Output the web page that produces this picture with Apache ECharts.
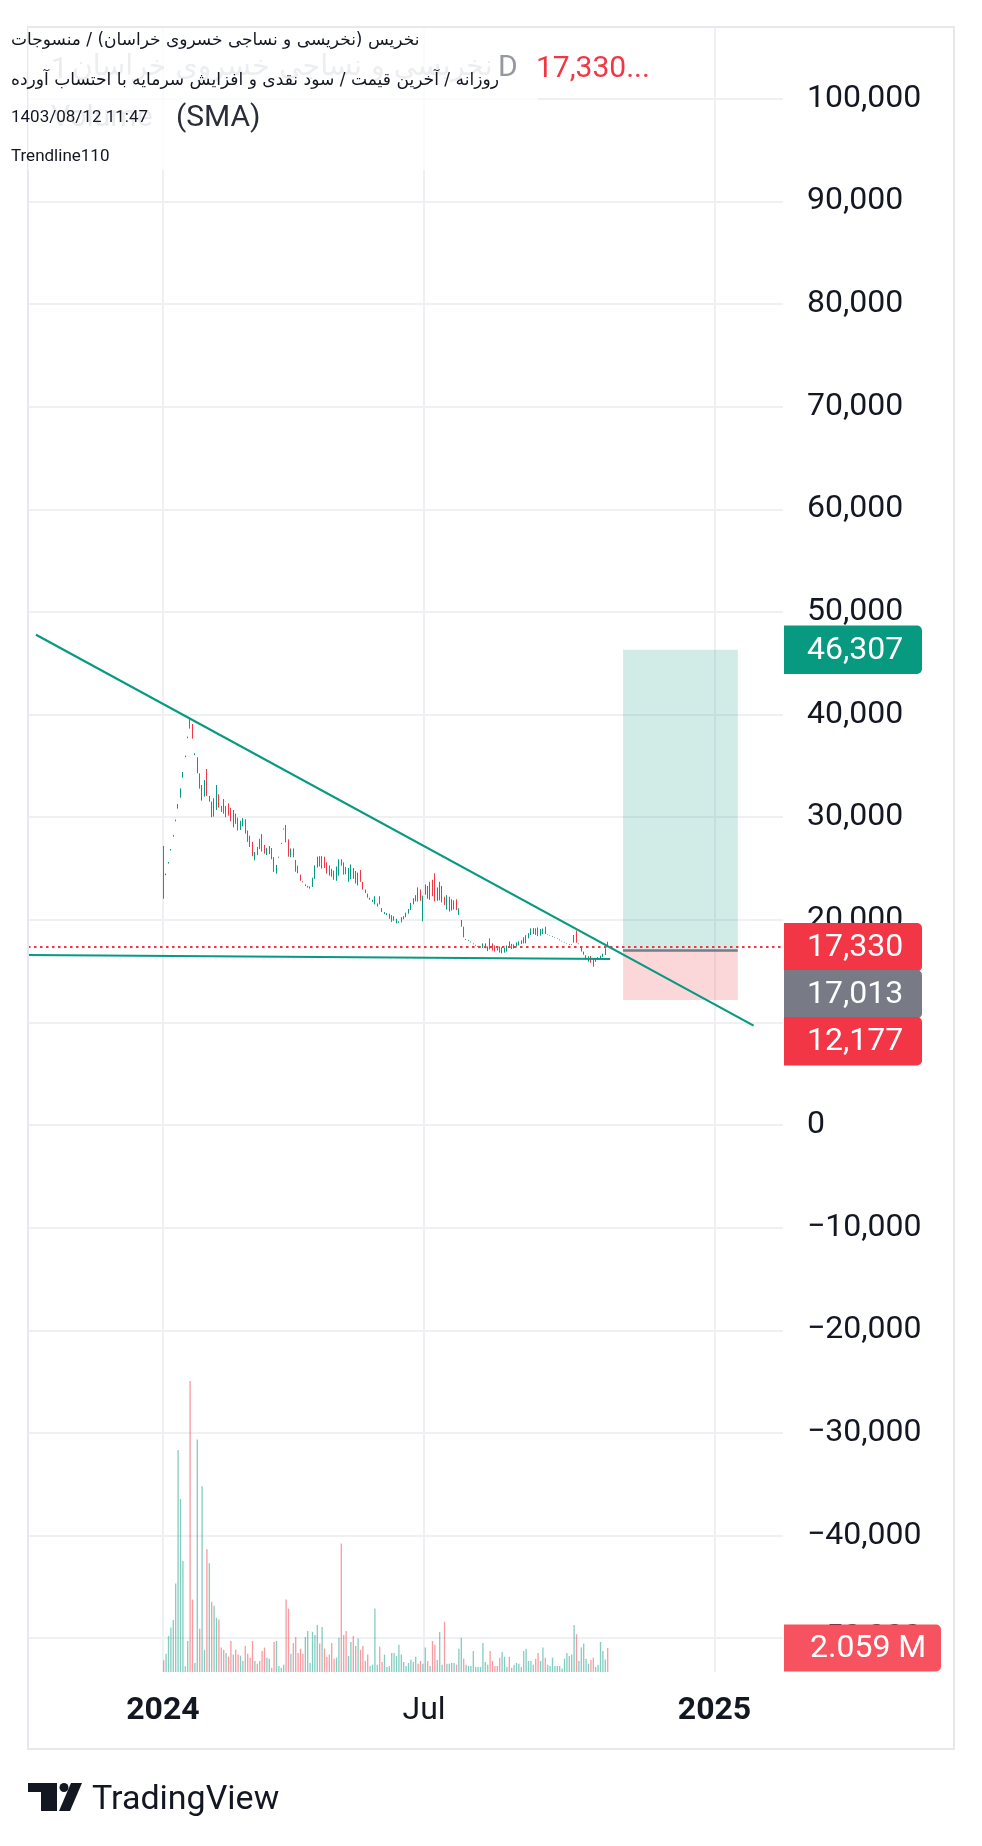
<!DOCTYPE html>
<html><head><meta charset="utf-8">
<script src="https://cdn.jsdelivr.net/npm/echarts@6/dist/echarts.min.js"></script>
<style>html,body{margin:0;padding:0;background:#fff;}#c{width:982px;height:1846px;}</style>
</head><body><div id="c"></div>
<script>
// ---- data ----
// daily candles [open, close], index = trading-bar number
const candles = [
[27200,22050],[24350,24500],[25480,25630],[26750,26900],[28100,28270],[29600,29760],[30830,31290],[31900,32810],[33850,34400],[35850,36000],
[37700,37850],[39640,38630],[39080,37650],[36050,36220],[34280,35830],[34280,32780],[31610,33140],[32000,33630],[34700,32070],[31510,32070],
[31510,29990],[30050,31840],[30700,33140],[32230,30930],[31090,30510],[31770,30340],[30000,31090],[31350,30150],[30900,29600],[29000,30700],
[30350,29350],[29950,28700],[28750,29650],[29100,29900],[29800,28400],[28700,27600],[28200,27100],[27600,26200],[25800,26600],[27100,26300],
[27900,26900],[28350,26650],[27300,26450],[26300,27000],[26400,27200],[27000,25900],[26100,24650],[24500,25350],[26050,26150],[27400,27500],
[28800,28900],[29240,27550],[27840,26150],[26100,26950],[26960,26090],[25830,24690],[25280,24530],[24400,23800],[23750,23650],[23300,23450],
[23150,23300],[23050,23250],[23200,24100],[24000,25300],[25100,26150],[26200,25200],[25000,26200],[26150,25050],[25600,24500],[25300,24300],
[24950,24200],[24800,23900],[23800,25200],[24300,25900],[25900,25280],[25600,24400],[25150,24450],[23700,25050],[23950,25400],[25050,24000],
[24750,23550],[23350,24600],[24850,23700],[23700,22950],[22950,22600],[22550,22150],[21950,22150],[21750,21950],[21500,22300],[21300,21600],
[22300,21500],[21150,20750],[20550,20750],[20450,20650],[20100,20600],[19800,20450],[19900,20350],[19650,20100],[19700,19850],[19750,20250],
[20050,20350],[20250,20700],[20600,21050],[20950,21650],[21500,22100],[21800,22400],[23160,21770],[22950,21850],[19850,22350],[22450,23450],
[23300,22050],[21950,23700],[23900,22300],[24530,21800],[21850,23150],[21900,23700],[21700,23300],[22250,21450],[21000,22400],[20800,22250],
[20900,22000],[21000,21900],[22000,20950],[20470,21120],[19330,19980],[19330,18290],[18050,18130],[17950,18030],[17800,17870],[17620,17700],
[17480,17560],[17380,17450],[17300,17400],[17250,17700],[17220,17700],[16950,17400],[18190,17120],[17700,17000],[17500,16900],[17350,17000],
[17400,16800],[16730,17300],[16800,17250],[16900,17500],[17900,17300],[17650,17150],[17200,17600],[17400,17800],[17500,17900],[17650,18000],
[17700,18300],[17700,18500],[18200,18700],[18520,19170],[18600,19200],[19170,18520],[19250,18400],[18450,19100],[18600,19150],[19330,18620],
[18550,18600],[18450,18500],[18350,18420],[18250,18300],[18150,18200],[18000,18080],[17900,17950],[17800,17850],[17650,17700],[17550,17620],
[17550,17620],[17770,18520],[18940,17770],[17620,17700],[16900,17380],[16600,16900],[16250,16550],[15920,16450],[16470,15820],[16240,15430],
[15900,16200],[16100,16350],[16250,16500],[16400,16700],[16570,17220],[17870,17330]
];
// volume in millions of shares
const volumes = [
1.0,1.57,3.09,3.8,4.46,7.57,19.0,14.8,9.5,0.5,2.66,
24.9,6.2,0.77,19.9,3.7,15.9,1.9,10.5,9.3,6.0,
5.66,4.63,4.49,2.09,1.9,1.63,1.31,2.66,1.49,1.9,
1.49,1.4,0.94,2.23,1.57,1.23,2.66,0.94,0.71,0.94,
1.8,2.09,1.23,1.14,0.37,2.57,2.66,0.51,0.37,0.63,
6.2,5.43,1.57,2.49,3.0,1.63,2.0,1.57,3.0,3.5,
0.77,3.43,3.17,4.03,2.43,3.86,2.0,1.31,1.49,2.49,
1.14,1.23,2.94,11.0,3.17,3.5,1.37,2.57,3.09,2.23,
2.86,1.9,2.23,0.94,1.49,0.51,0.63,5.43,0.63,2.17,
0.86,1.49,0.43,0.51,1.63,1.63,1.37,2.34,1.49,0.86,
0.51,0.77,1.06,0.86,1.31,0.71,0.94,0.71,2.09,0.94,
0.51,2.66,2.34,1.03,3.43,0.63,4.29,0.71,0.71,0.77,
0.77,0.63,2.0,2.94,1.14,0.63,0.51,0.51,1.8,0.43,
0.43,0.43,2.49,0.86,0.63,1.8,0.94,0.51,0.51,1.23,
1.71,1.31,0.43,1.31,0.37,0.63,0.77,0.71,0.43,1.8,
2.0,0.94,0.94,0.63,1.14,1.63,0.94,2.09,1.23,0.63,
0.51,1.23,0.51,0.51,0.51,0.29,1.14,1.63,1.37,1.49,
4.03,3.23,0.94,2.09,2.43,1.14,0.71,1.03,1.23,0.43,
0.63,2.57,1.8,1.06,2.059
];
const priceTicks = [100000,90000,80000,70000,60000,50000,40000,30000,20000,10000,0,-10000,-20000,-30000,-40000,-50000];
const timeTickBars = [-0.3, 108.5, 229.5];
const timeTickLabels = ['2024', 'Jul', '2025'];
const timeTickBold = [true, false, true];
const lastPrice = 17330;
const targetPrice = 46307;
const entryPrice = 17013;
const stopPrice = 12177;
const lastVolumeLabel = '2.059 M';
const trendDown = [[-53.2, 47780], [245.8, 9690]];
const trendFlat = [[-56.5, 16570], [186, 16180]];
const positionBars = [191.4, 239.2];
const headerLine1 = 'نخریس (نخریسی و نساجی خسروی خراسان) / منسوجات';
const headerLine2 = 'روزانه / آخرین قیمت / سود نقدی و افزایش سرمایه با احتساب آورده';
const headerDate = '1403/08/12 11:47';
const headerTool = 'Trendline110';
const ghostTitle = 'نخریسی و نساجی خسروی خراسان';

// ---- chart ----
const UP = '#089981', DOWN = '#F23645', GRID = '#eef0f4', TXT = '#131722';
const chart = echarts.init(document.getElementById('c'), null, {renderer: 'canvas', width: 982, height: 1846});
const candleData = candles.map((c, i) => [i, c[0], c[1], Math.min(c[0], c[1]), Math.max(c[0], c[1])]);
const volData = volumes.map((v, i) => ({
  value: [i, v],
  itemStyle: {color: candles[i][1] >= candles[i][0] ? 'rgba(8,153,129,0.5)' : 'rgba(242,54,69,0.5)'}
}));
function fmtPrice(v) {
  const s = Math.abs(v).toLocaleString('en-US');
  return v < 0 ? '\u2212' + s : s;
}

chart.setOption({
  animation: false,
  backgroundColor: '#ffffff',
  grid: {left: 28, top: 27, width: 755, height: 1645, show: false, outerBoundsMode: 'none'},
  xAxis: {
    type: 'value', min: -56.54, max: 258.04,
    axisLine: {show: false},
    axisTick: {show: false, customValues: timeTickBars},
    axisLabel: {
      customValues: timeTickBars, margin: 23, fontSize: 32, fontFamily: 'Roboto', color: TXT,
      formatter: function (v) {
        let k = 0, d = 1e9;
        timeTickBars.forEach((p, j) => { if (Math.abs(p - v) < d) { d = Math.abs(p - v); k = j; } });
        return timeTickBold[k] ? '{b|' + timeTickLabels[k] + '}' : timeTickLabels[k];
      },
      rich: {b: {fontWeight: 'bold', fontSize: 32, fontFamily: 'Roboto', color: TXT}}
    },
    splitLine: {show: true, lineStyle: {color: GRID, width: 2}}
  },
  yAxis: [{
    type: 'value', position: 'right', min: -53300, max: 107000,
    axisLine: {show: false},
    axisTick: {show: false, customValues: priceTicks},
    axisLabel: {customValues: priceTicks, margin: 24, align: 'left', fontSize: 32, fontFamily: 'Roboto', color: TXT, formatter: fmtPrice},
    splitLine: {show: true, lineStyle: {color: GRID, width: 2}}
  }, {
    type: 'value', min: 0, max: 140.8, show: false,
    axisLabel: {show: false}, splitLine: {show: false}, axisTick: {show: false}
  }],
  series: [{
    type: 'bar', yAxisIndex: 1, data: volData, barWidth: 1.3, z: 1, silent: true
  }, {
    type: 'line', data: [[positionBars[0], entryPrice], [positionBars[1], entryPrice]],
    symbol: 'none', lineStyle: {color: '#787B86', width: 2.5}, z: 3, silent: true,
    markArea: {
      silent: true,
      data: [
        [{xAxis: positionBars[0], yAxis: entryPrice, itemStyle: {color: 'rgba(8,153,129,0.19)'}}, {xAxis: positionBars[1], yAxis: targetPrice}],
        [{xAxis: positionBars[0], yAxis: stopPrice, itemStyle: {color: 'rgba(242,54,69,0.2)'}}, {xAxis: positionBars[1], yAxis: entryPrice}]
      ]
    }
  }, {
    type: 'candlestick', data: candleData, encode: {x: 0, y: [1, 2, 3, 4]},
    barWidth: 1.2, z: 4, silent: true,
    itemStyle: {color: UP, color0: DOWN, borderColor: UP, borderColor0: DOWN, borderWidth: 1},
    markLine: {
      silent: true, symbol: 'none', animation: false,
      label: {show: false},
      lineStyle: {color: DOWN, type: [2.5, 3.5], width: 2},
      data: [{yAxis: lastPrice}]
    }
  }, {
    type: 'line', data: trendDown, symbol: 'none', z: 6, silent: true,
    lineStyle: {color: UP, width: 2.2}
  }, {
    type: 'line', data: trendFlat, symbol: 'none', z: 6, silent: true,
    lineStyle: {color: UP, width: 2.2}
  }]
});

// ---- overlays: price tags, legend, frame, logo ----
function yP(v) { return chart.convertToPixel({yAxisIndex: 0}, v); }
function yV(v) { return chart.convertToPixel({yAxisIndex: 1}, v); }
function fitSize(text, family, target, weight) {
  const cv = document.createElement('canvas').getContext('2d');
  cv.font = (weight || 'normal') + ' 20px "' + family + '"';
  return 20 * target / cv.measureText(text).width;
}
function tag(yc, text, fill, w, h, tx) {
  return [
    {type: 'rect', zlevel: 1, z: 120, silent: true, shape: {x: 784, y: yc - h / 2, width: w, height: h, r: [0, 5, 5, 0]}, style: {fill: fill}},
    {type: 'text', zlevel: 1, z: 121, silent: true, style: {text: text, x: tx, y: yc + 1, fill: '#ffffff', font: '32px Roboto', verticalAlign: 'middle', align: 'left'}}
  ];
}
// stack tags that would overlap
const tagDefs = [
  {v: targetPrice, fill: UP}, {v: lastPrice, fill: DOWN}, {v: entryPrice, fill: '#787B86'}, {v: stopPrice, fill: DOWN}
].map(t => ({text: fmtPrice(t.v), fill: t.fill, y: yP(t.v)}));
tagDefs.sort((a, b) => a.y - b.y);
for (let i = 1; i < tagDefs.length; i++) tagDefs[i].y = Math.max(tagDefs[i].y, tagDefs[i - 1].y + 47);

const s1 = fitSize(headerLine1, 'DejaVu Sans', 409);
const s2 = fitSize(headerLine2, 'DejaVu Sans', 489);
const sg = fitSize(ghostTitle, 'DejaVu Sans', 420);

const graphics = [
  {type: 'rect', z: 90, silent: true, shape: {x: 28, y: 27, width: 926, height: 1722}, style: {fill: 'none', stroke: '#e6e8ee', lineWidth: 2}},
  // ghost legend (behind caption)
  {type: 'text', z: 100, style: {text: '1', x: 51, y: 70, font: '30px Roboto', fill: '#b9bcc4', verticalAlign: 'middle'}},
  {type: 'text', z: 100, style: {text: ghostTitle, x: 72, y: 68, font: sg.toFixed(1) + 'px "DejaVu Sans"', fill: '#c2c5cc', verticalAlign: 'middle'}},
  {type: 'text', z: 100, style: {text: 'Volume', x: 51, y: 118, font: '30px Roboto', fill: '#b9bcc4', verticalAlign: 'middle'}},
  {type: 'rect', z: 101, silent: true, shape: {x: 28, y: 28, width: 510, height: 142}, style: {fill: 'rgba(255,255,255,0.7)'}},
  {type: 'text', z: 102, style: {text: 'D', x: 498, y: 68, font: '30px Roboto', fill: '#9598a1', verticalAlign: 'middle'}},
  {type: 'text', z: 102, style: {text: '17,330...', x: 536, y: 69, font: '30px Roboto', fill: DOWN, verticalAlign: 'middle'}},
  {type: 'text', z: 102, style: {text: '(SMA)', x: 176, y: 118, font: '30px Roboto', fill: '#2a2e39', verticalAlign: 'middle'}},
  // caption lines
  {type: 'text', z: 103, style: {text: headerLine1, x: 11, y: 41, font: s1.toFixed(1) + 'px "DejaVu Sans"', fill: TXT, verticalAlign: 'middle'}},
  {type: 'text', z: 103, style: {text: headerLine2, x: 11, y: 81, font: s2.toFixed(1) + 'px "DejaVu Sans"', fill: TXT, verticalAlign: 'middle'}},
  {type: 'text', z: 103, style: {text: headerDate, x: 11, y: 118, font: '17px Roboto', fill: TXT, verticalAlign: 'middle'}},
  {type: 'text', z: 103, style: {text: headerTool, x: 11, y: 157, font: '17px Roboto', fill: TXT, verticalAlign: 'middle'}},
  // logo
  {type: 'polygon', z: 100, shape: {points: [[28, 1783], [57, 1783], [57, 1811], [41, 1811], [41, 1792], [28, 1792]]}, style: {fill: TXT}},
  {type: 'circle', z: 100, shape: {cx: 64, cy: 1787.5, r: 4.5}, style: {fill: TXT}},
  {type: 'polygon', z: 100, shape: {points: [[71, 1783], [82, 1783], [70, 1811], [59, 1811]]}, style: {fill: TXT}},
  {type: 'text', z: 100, style: {text: 'TradingView', x: 92, y: 1800, font: '34px Roboto', fill: TXT, verticalAlign: 'middle'}}
];
tagDefs.forEach(t => tag(t.y, t.text, t.fill, 138, 48.5, 807).forEach(e => graphics.push(e)));
const vy = yV(volumes[volumes.length - 1]);
tag(vy, lastVolumeLabel, '#F7525F', 157, 47, 810).forEach(e => graphics.push(e));
chart.setOption({graphic: graphics});
</script>
</body></html>
